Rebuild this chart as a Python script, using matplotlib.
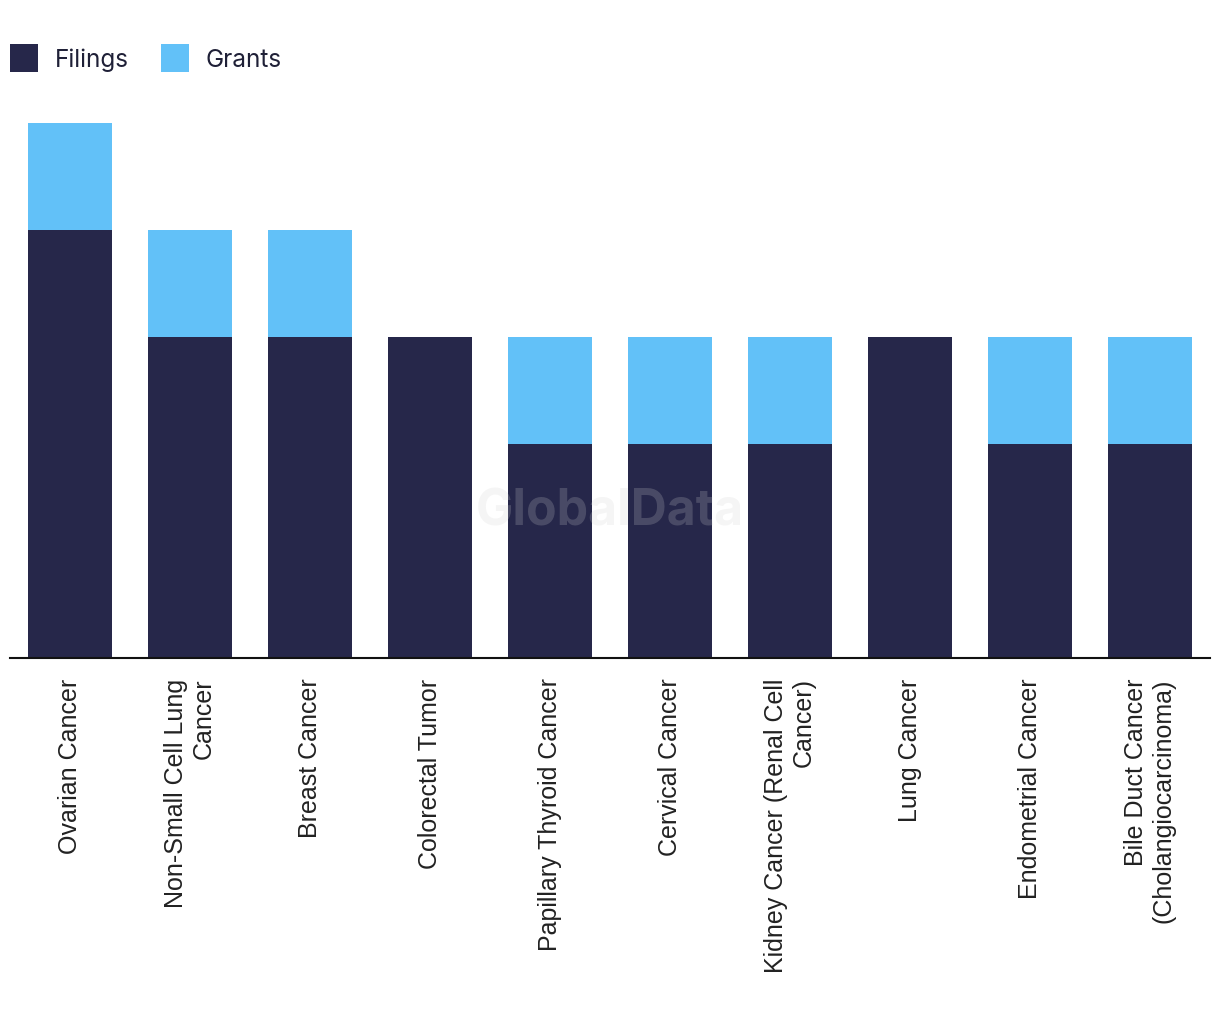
import matplotlib as mpl
mpl.use('Agg')
import matplotlib.pyplot as plt
import numpy as np

categories = ["Ovarian Cancer", "Non-Small Cell Lung\nCancer", "Breast Cancer",
              "Colorectal Tumor", "Papillary Thyroid Cancer", "Cervical Cancer",
              "Kidney Cancer (Renal Cell\nCancer)", "Lung Cancer",
              "Endometrial Cancer", "Bile Duct Cancer\n(Cholangiocarcinoma)"]
filings = [4, 3, 3, 3, 2, 2, 2, 3, 2, 2]
grants = [1, 1, 1, 0, 1, 1, 1, 0, 1, 1]

dark = '#26274a'
light = '#62c1f8'

fig = plt.figure(figsize=(12.2, 10.2), dpi=100)
ymax = 5.5
ax = fig.add_axes([10/1220, 361/1020, 1200/1220, ymax*107/1020])

x = np.arange(len(categories))
ax.bar(x, filings, width=0.7, color=dark, label='Filings')
ax.bar(x, grants, width=0.7, bottom=filings, color=light, label='Grants')

ax.set_xlim(-0.5, len(categories) - 0.5)
ax.set_ylim(0, ymax)
for s in ['top', 'right', 'left']:
    ax.spines[s].set_visible(False)
ax.spines['bottom'].set_linewidth(1.5)
ax.spines['bottom'].set_color('#111111')
ax.set_yticks([])
ax.set_xticks(x)
ax.set_xticklabels(categories, rotation=90, fontsize=18, family='Liberation Sans',
                   color='#222222', multialignment='right')
ax.tick_params(axis='x', length=0, pad=14)

ax.text(0.5, 0.25, 'GlobalData', transform=ax.transAxes, ha='center', va='center',
        fontsize=36, fontweight='bold', family='Inter', color='#d0d0d0', alpha=0.21)

fig.legend(loc='upper left', bbox_to_anchor=(10/1220, 1 - 45/1020), ncol=2, frameon=False,
           prop={'family': 'Inter', 'size': 17.5}, handlelength=1.15, handleheight=1.4,
           columnspacing=1.3, handletextpad=0.7, borderaxespad=0, borderpad=0,
           labelcolor='#1f2037')

fig.savefig('out.png', dpi=100)
